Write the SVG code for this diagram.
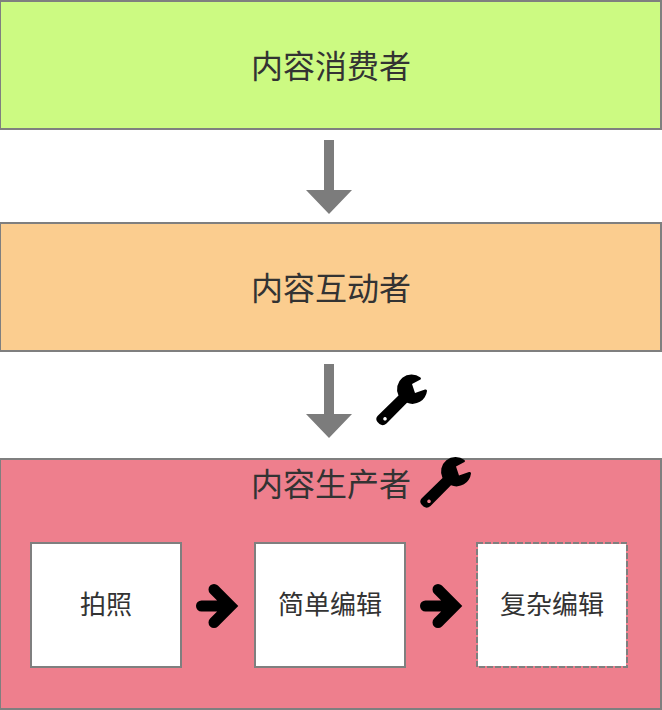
<svg xmlns="http://www.w3.org/2000/svg" width="662" height="710" viewBox="0 0 662 710">
  <style>
    .box { stroke: #7f7f7f; stroke-width: 2; }
    .step { fill: #ffffff; stroke: #7f7f7f; stroke-width: 2; }
    .sheet { fill: #ffffff; }
    .dashed { fill: none; stroke: #7f7f7f; stroke-width: 2; stroke-dasharray: 6 2; }
    .title { font-family: "Noto Sans CJK SC", "Liberation Sans", sans-serif; font-size: 32px; fill: #333333; text-anchor: middle; }
    .label { font-family: "Noto Sans CJK SC", "Liberation Sans", sans-serif; font-size: 26px; fill: #333333; text-anchor: middle; }
    .flow { fill: #7c7c7c; }
    .next { fill: none; stroke: #000000; stroke-width: 11; stroke-linecap: round; stroke-linejoin: miter; stroke-miterlimit: 4; }
  </style>
  <defs>
    <path id="wrench" fill="#000000" fill-rule="evenodd" d="M44.5 3.5L36 8L39 17L49 13.5Q51.2 13 51 15A14.6 14.6 0 0 1 31 26.8L10.5 47.5Q7 50.5 3.5 48L1.5 46Q-1 43 1.5 40L22.5 19.5A14.6 14.6 0 0 1 44.5 1.5Q45.5 2.8 44.5 3.5ZM9 41a1.8 1.8 0 1 0 0.01 0Z"/>
    <path id="down" class="flow" d="M324 0h10v50h18l-23 24-23-24h18z"/>
    <g id="right">
      <path class="next" d="M201.5 606H230M214 589.5L230.5 606L214 622.5"/>
    </g>
  </defs>

  <g id="consumer">
    <rect class="box" x="0" y="1" width="661" height="128" fill="#ccfa82"/>
    <text class="title" x="331" y="78">内容消费者</text>
  </g>
  <g id="interactor">
    <rect class="box" x="0" y="223" width="661" height="128" fill="#fbcd8f"/>
    <text class="title" x="331" y="300">内容互动者</text>
  </g>
  <g id="producer">
    <rect class="box" x="0" y="459" width="661" height="250" fill="#ee7f8d"/>
    <text class="title" x="331" y="496">内容生产者</text>
    <use href="#wrench" x="420" y="458.5"/>
  </g>
  <g id="photo">
    <rect class="step" x="31" y="543" width="150" height="124"/>
    <text class="label" x="106" y="614">拍照</text>
  </g>
  <g id="simple-edit">
    <rect class="step" x="255" y="543" width="150" height="124"/>
    <text class="label" x="330" y="614">简单编辑</text>
  </g>
  <g id="complex-edit">
    <rect class="sheet" x="478" y="544" width="148" height="122"/>
    <rect class="dashed" x="477" y="543" width="150" height="124"/>
    <text class="label" x="552" y="614">复杂编辑</text>
  </g>

  <g id="connectors">
    <use href="#down" y="140"/>
    <use href="#down" y="364"/>
    <use href="#wrench" x="376" y="376"/>
    <use href="#right"/>
    <use href="#right" x="224"/>
  </g>
</svg>
